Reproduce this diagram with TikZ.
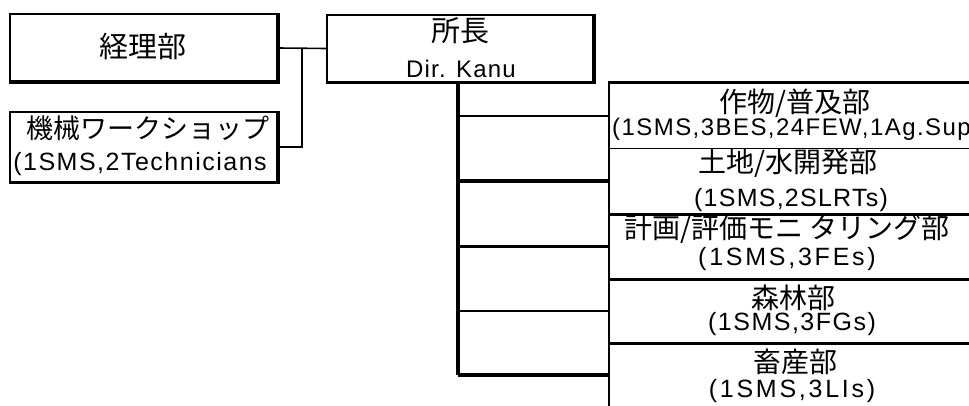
\documentclass[tikz,border=0pt]{standalone}
\usepackage{fontspec}
\setmainfont{Noto Sans CJK JP}
\newfontfamily\latfam{Liberation Sans}
\newcommand\jpf[1]{\fontsize{#1}{#1}\selectfont}
\newcommand\latf[2]{\latfam\fontsize{#1}{#1}\selectfont\addfontfeature{LetterSpace=#2}}
\begin{document}
\begin{tikzpicture}[x=1pt,y=-1pt,
  box/.style={draw,line width=2pt,inner sep=0pt,minimum width=267pt,minimum height=67pt},
  rbox/.style={draw,line width=1.5pt,inner sep=0pt,minimum width=364pt,minimum height=65pt,anchor=north west},
  txt/.style={inner sep=0pt},
  shade/.style={line width=3pt},
  wire/.style={line width=1.6pt},
  trunkw/.style={line width=4pt},
  thinbr/.style={line width=2pt},
  thickbr/.style={line width=3.5pt},
  divider/.style={line width=3.5pt},
]
\useasboundingbox (0,0) rectangle (969,406);
\clip (0,0) rectangle (969,406);

% left boxes
\node[box] (acc) at (143.5,48) {};
\node[txt,font=\jpf{29}] (accT) at (143,47) {経理部};
\node[box,minimum height=70pt] (ws) at (143.5,147) {};
\node[txt,font=\jpf{27}] (wsT1) at (148,128) {機械ワークショップ};
\node[txt,font=\latf{25}{6}] (wsT2) at (140,164) {(1SMS,2Technicians};

% director
\node[box,minimum width=266pt] (dir) at (460,48.5) {};
\node[txt,font=\jpf{29}] (dirT1) at (460,31) {所長};
\node[txt,font=\latf{24}{5}] (dirT2) at (461,69) {Dir. Kanu};

% heavier lower and right edges of the left boxes
\draw[shade] (acc.south west) -- (acc.south east) -- (acc.north east);
\draw[shade] (ws.south west) -- (ws.south east) -- (ws.north east);
\draw[shade] (dir.south west) -- (dir.south east) -- (dir.north east);

% right boxes
\node[rbox] (r1) at (608,83) {};
\node[rbox] (r2) at (608,148) {};
\node[rbox] (r3) at (608,213) {};
\node[rbox,minimum height=64pt] (r4) at (608,278) {};
\node[rbox] (r5) at (608,342) {};

\node[txt,font=\jpf{28}] (r1a) at (795,103) {作物/普及部};
\node[txt,font=\latf{24}{6},anchor=west] (r1b) at (612,129) {(1SMS,3BES,24FEW,1Ag.Sup};
\node[txt,font=\jpf{28}] (r2a) at (788,163) {土地/水開発部};
\node[txt,font=\latf{25}{5}] (r2b) at (791,200) {(1SMS,2SLRTs)};
\node[txt,font=\jpf{28}] (r3a) at (787,229) {計画/評価モニ タリング部};
\node[txt,font=\latf{25}{11}] (r3b) at (787,259) {(1SMS,3FEs)};
\node[txt,font=\jpf{28}] (r4a) at (793,298) {森林部};
\node[txt,font=\latf{25}{6}] (r4b) at (792,324) {(1SMS,3FGs)};
\node[txt,font=\jpf{28}] (r5a) at (795,362) {畜産部};
\node[txt,font=\latf{25}{11}] (r5b) at (792,391) {(1SMS,3LIs)};

% thick dividers of right column
\draw[line width=3pt] (r1.north west) -- (r1.north east);
\draw[divider] (r2.south west) -- (r2.south east);
\draw[divider] (r3.south west) -- (r3.south east);
\draw[divider] (r4.south west) -- (r4.south east);

% left connectors
\coordinate (jx) at (302,48);
\draw[wire] (acc.east) -- (dir.west);
\draw[wire] (jx) |- (ws.east);

% trunk and branches
\coordinate (tb) at (458,375);
\draw[trunkw] (dir.south -| tb) -- (tb);
\draw[thinbr] (tb |- r1.west) -- (r1.west);
\draw[thickbr] (tb |- r2.west) -- (r2.west);
\draw[thickbr] (tb |- r3.west) -- (r3.west);
\draw[thinbr] (tb |- r4.west) -- (r4.west);
\draw[line width=4pt] (tb) -- (tb -| r5.west);
\end{tikzpicture}
\end{document}
